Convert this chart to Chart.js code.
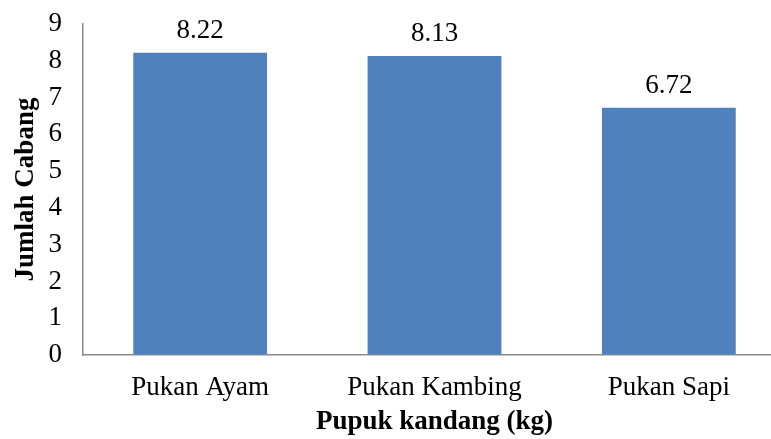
<!DOCTYPE html>
<html>
<head>
<meta charset="utf-8">
<script src="https://cdn.jsdelivr.net/npm/chart.js@4"></script>
<style>
  html, body { margin: 0; padding: 0; background: #fff; overflow: hidden; }
  /* the original chart is cut off at the right edge, so the canvas runs past the window */
  #wrap { width: 790px; height: 439px; }
</style>
</head>
<body>
<div id="wrap"><canvas id="chart"></canvas></div>
<script>
const categories = ['Pukan Ayam', 'Pukan Kambing', 'Pukan Sapi'];
const jumlahCabang = [8.22, 8.13, 6.72];
const yTicks = [0, 1, 2, 3, 4, 5, 6, 7, 8, 9];

const serif = '"Liberation Serif", "Times New Roman", serif';

// write the value above each bar
const valueLabels = {
    id: 'valueLabels',
    afterDatasetsDraw(chart) {
        const ctx = chart.ctx;
        const meta = chart.getDatasetMeta(0);
        ctx.save();
        ctx.font = '27px ' + serif;
        ctx.fillStyle = '#000';
        ctx.textAlign = 'center';
        ctx.textBaseline = 'alphabetic';
        meta.data.forEach(function (bar, i) {
            ctx.fillText(jumlahCabang[i].toFixed(2), bar.x, bar.y - 15);
        });
        ctx.restore();
    }
};

document.addEventListener('DOMContentLoaded', function () {
    const ctx = document.getElementById('chart').getContext('2d');
    new Chart(ctx, {
        type: 'bar',
        data: {
            labels: categories,
            datasets: [{
                label: 'Jumlah Cabang',
                data: jumlahCabang,
                backgroundColor: '#4F81BD',
                borderWidth: 0,
                categoryPercentage: 1,
                barPercentage: 0.571
            }]
        },
        options: {
            responsive: true,
            maintainAspectRatio: false,
            animation: false,
            layout: { padding: { top: 24, right: 4, left: 0, bottom: 0 } },
            plugins: {
                legend: { display: false },
                tooltip: { enabled: false }
            },
            scales: {
                x: {
                    grid: { drawOnChartArea: false, drawTicks: false },
                    border: { color: '#8c8c8c', width: 1.5 },
                    ticks: { color: '#000', font: { family: serif, size: 27 }, padding: 17 },
                    title: {
                        display: true,
                        text: 'Pupuk kandang (kg)',
                        color: '#000',
                        font: { family: serif, size: 27, weight: 'bold' },
                        padding: { top: 4, bottom: 1 }
                    },
                    afterFit(scale) { scale.height = 84; }
                },
                y: {
                    min: 0,
                    max: 9,
                    afterBuildTicks(scale) {
                        scale.ticks = yTicks.map(v => ({ value: v }));
                    },
                    grid: { drawOnChartArea: false, drawTicks: false },
                    border: { color: '#8c8c8c', width: 1.5 },
                    ticks: { color: '#000', font: { family: serif, size: 27 }, padding: 21, autoSkip: false },
                    title: {
                        display: true,
                        text: 'Jumlah Cabang',
                        color: '#000',
                        font: { family: serif, size: 27, weight: 'bold' },
                        padding: { top: 10, bottom: 0 }
                    },
                    afterFit(scale) {
                        scale.width = 83;
                        // tick padding is otherwise added above and below the axis too
                        scale.paddingTop = 0;
                        scale.paddingBottom = 0;
                    }
                }
            }
        },
        plugins: [valueLabels]
    });
});
</script>
</body>
</html>
